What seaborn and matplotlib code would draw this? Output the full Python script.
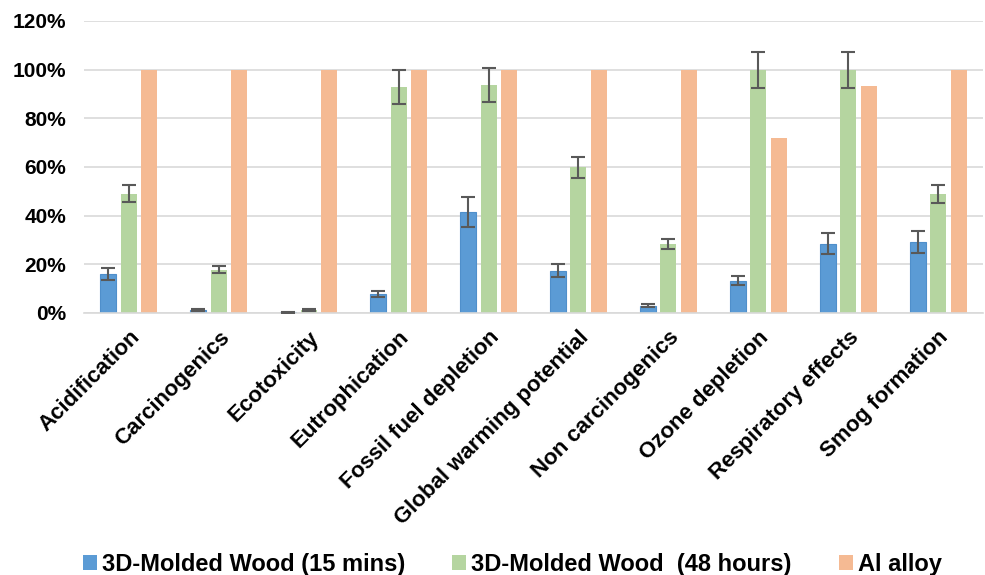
import numpy as np
import pandas as pd
import matplotlib
matplotlib.use("Agg")
import matplotlib.pyplot as plt
from matplotlib.ticker import FuncFormatter
import seaborn as sns

# Impact categories (x axis)
categories = [
    "Acidification", "Carcinogenics", "Ecotoxicity", "Eutrophication",
    "Fossil fuel depletion", "Global warming potential", "Non carcinogenics",
    "Ozone depletion", "Respiratory effects", "Smog formation",
]

series_names = [
    "3D-Molded Wood (15 mins)",
    "3D-Molded Wood  (48 hours)",
    "Al alloy",
]

# Relative impact, % of the highest material per category
wood_15min = [16.0, 1.2, 0.2, 7.7, 41.4, 17.4, 3.0, 13.2, 28.4, 29.1]
wood_48h = [49.0, 17.8, 1.2, 92.9, 93.8, 59.8, 28.4, 100.0, 100.0, 48.8]
al_alloy = [100.0, 100.0, 100.0, 100.0, 100.0, 100.0, 100.0, 71.9, 93.1, 100.0]

# Standard deviations for the wood samples
wood_15min_err = [2.4, 0.3, 0.2, 1.2, 6.1, 2.7, 0.6, 1.9, 4.3, 4.5]
wood_48h_err = [3.5, 1.4, 0.3, 6.9, 6.9, 4.5, 2.0, 7.4, 7.4, 3.8]
al_alloy_err = [None] * len(categories)

yticks = [0, 20, 40, 60, 80, 100, 120]

palette = ["#5B9BD5", "#B5D5A0", "#F5BA93"]

df = pd.DataFrame({
    "category": categories * 3,
    "series": [series_names[0]] * len(categories)
              + [series_names[1]] * len(categories)
              + [series_names[2]] * len(categories),
    "value": wood_15min + wood_48h + al_alloy,
})

sns.set_style("white")
plt.rcParams["font.family"] = ["Liberation Sans", "DejaVu Sans"]
plt.rcParams["font.weight"] = "bold"
plt.rcParams["text.color"] = "black"
plt.rcParams["xtick.color"] = "black"
plt.rcParams["ytick.color"] = "black"

fig = plt.figure(figsize=(9.85, 5.75), dpi=100)
ax = fig.add_axes([0.0853, 0.4557, 0.9127, 0.5078])

sns.barplot(
    data=df, x="category", y="value", hue="series",
    order=categories, hue_order=series_names, palette=palette,
    width=0.684, gap=0.22, errorbar=None, saturation=1.0,
    linewidth=0, ax=ax,
)

# thin darker outline on the blue bars
for bar in ax.containers[0]:
    bar.set_edgecolor("#4F8FCB")
    bar.set_linewidth(0.8)

# error bars placed on the drawn bars
for cont, errs in zip(ax.containers, [wood_15min_err, wood_48h_err, al_alloy_err]):
    for bar, e in zip(cont, errs):
        if e is None:
            continue
        xc = bar.get_x() + bar.get_width() / 2
        ax.errorbar(xc, bar.get_height(), yerr=e, fmt="none",
                    ecolor="#595959", elinewidth=1.5, capsize=5,
                    capthick=1.5, zorder=5)

ax.set_ylim(0, 120)
ax.set_xlim(-0.5, len(categories) - 0.5)
ax.set_yticks(yticks)
ax.yaxis.set_major_formatter(FuncFormatter(lambda v, p: f"{v:.0f}%"))
ax.grid(axis="y", color="#D9D9D9", linewidth=1.2)
ax.set_axisbelow(True)
for s in ["top", "right", "left"]:
    ax.spines[s].set_visible(False)
ax.spines["bottom"].set_color("#D9D9D9")
ax.spines["bottom"].set_linewidth(1.2)

ax.tick_params(axis="both", length=0, colors="black")
ax.tick_params(axis="y", labelsize=15, pad=13)
ax.tick_params(axis="x", labelsize=16, pad=10)
for lbl in ax.get_yticklabels():
    lbl.set_fontweight("bold")
for lbl in ax.get_xticklabels():
    lbl.set_rotation(45)
    lbl.set_ha("right")
    lbl.set_rotation_mode("anchor")
    lbl.set_fontweight("bold")

ax.set_xlabel("")
ax.set_ylabel("")

handles, labels = ax.get_legend_handles_labels()
ax.legend_.remove()
leg = fig.legend(
    handles, labels, loc="lower center", bbox_to_anchor=(0.52, -0.038),
    ncol=3, frameon=False, prop={"size": 17, "weight": "bold"},
    handlelength=0.6, handleheight=0.6, handletextpad=0.2,
    columnspacing=2.0,
)
for t in leg.get_texts():
    t.set_color("black")

fig.savefig("out.png", dpi=100)
